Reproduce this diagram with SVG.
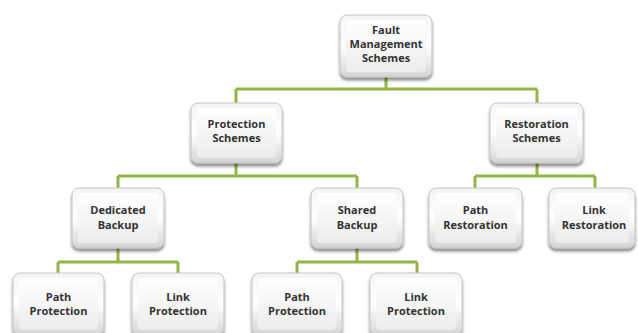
<svg xmlns="http://www.w3.org/2000/svg" width="638" height="333" viewBox="0 0 638 333">
<defs>
<linearGradient id="g" x1="0" y1="0" x2="0" y2="1">
<stop offset="0" stop-color="#f4f4f4"/>
<stop offset="0.5" stop-color="#ffffff"/>
<stop offset="1" stop-color="#d4d4d4"/>
</linearGradient>
<linearGradient id="gi" x1="0" y1="0" x2="0" y2="1">
<stop offset="0" stop-color="#ffffff"/>
<stop offset="1" stop-color="#ececec"/>
</linearGradient>
<filter id="sh" x="-20%" y="-20%" width="140%" height="150%">
<feGaussianBlur in="SourceAlpha" stdDeviation="1.8"/>
<feOffset dx="0" dy="2.5" result="b"/>
<feComponentTransfer><feFuncA type="linear" slope="0.45"/></feComponentTransfer>
<feMerge><feMergeNode/><feMergeNode in="SourceGraphic"/></feMerge>
</filter>
</defs>
<style>
.box{fill:url(#g);stroke:#c4c4c4;stroke-width:1;filter:url(#sh)}
.in{fill:url(#gi);stroke:none}
.t{font-family:"Open Sans","Liberation Sans",sans-serif;font-weight:bold;font-size:11px;fill:#333;text-anchor:middle}
.c{fill:none;stroke:#92b548;stroke-width:3}
</style>
<g id="connectors">
<path class="c" d="M386 77V89M236 89H537M236 89V103M537 89V103"/>
<path class="c" d="M236 163V176M118 176H357M118 176V188M357 176V188"/>
<path class="c" d="M537 163V176M475 176H595M475 176V188M595 176V188"/>
<path class="c" d="M118 248V262M58 262H178M58 262V273M178 262V273"/>
<path class="c" d="M357 248V262M297 262H417M297 262V273M417 262V273"/>
</g>
<g id="fault">
<rect class="box" x="340" y="15" width="92" height="62" rx="7"/>
<rect class="in" x="346" y="20" width="80" height="52" rx="4"/>
<text class="t" x="386" y="34">Fault</text>
<text class="t" x="386" y="48">Management</text>
<text class="t" x="386" y="62">Schemes</text>
</g>
<g id="protection">
<rect class="box" x="191" y="103" width="91" height="60" rx="7"/>
<rect class="in" x="197" y="108" width="79" height="50" rx="4"/>
<text class="t" x="236.5" y="128">Protection</text>
<text class="t" x="236.5" y="142">Schemes</text>
</g>
<g id="restoration">
<rect class="box" x="490" y="103" width="93" height="60" rx="7"/>
<rect class="in" x="496" y="108" width="81" height="50" rx="4"/>
<text class="t" x="536.5" y="128">Restoration</text>
<text class="t" x="536.5" y="142">Schemes</text>
</g>
<g id="dedicated">
<rect class="box" x="72" y="188" width="92" height="60" rx="7"/>
<rect class="in" x="78" y="193" width="80" height="50" rx="4"/>
<text class="t" x="118" y="214">Dedicated</text>
<text class="t" x="118" y="229">Backup</text>
</g>
<g id="shared">
<rect class="box" x="311" y="188" width="92" height="60" rx="7"/>
<rect class="in" x="317" y="193" width="80" height="50" rx="4"/>
<text class="t" x="357" y="214">Shared</text>
<text class="t" x="357" y="229">Backup</text>
</g>
<g id="pathRestoration">
<rect class="box" x="429" y="188" width="93" height="60" rx="7"/>
<rect class="in" x="435" y="193" width="81" height="50" rx="4"/>
<text class="t" x="475.5" y="214">Path</text>
<text class="t" x="475.5" y="229">Restoration</text>
</g>
<g id="linkRestoration">
<rect class="box" x="549" y="188" width="86" height="60" rx="7"/>
<rect class="in" x="555" y="193" width="74" height="50" rx="4"/>
<text class="t" x="594" y="214">Link</text>
<text class="t" x="594" y="229">Restoration</text>
</g>
<g id="pathProtection1">
<rect class="box" x="13" y="273" width="91" height="62" rx="7"/>
<rect class="in" x="19" y="278" width="79" height="52" rx="4"/>
<text class="t" x="58.5" y="301">Path</text>
<text class="t" x="58.5" y="315">Protection</text>
</g>
<g id="linkProtection1">
<rect class="box" x="132" y="273" width="92" height="62" rx="7"/>
<rect class="in" x="138" y="278" width="80" height="52" rx="4"/>
<text class="t" x="178" y="301">Link</text>
<text class="t" x="178" y="315">Protection</text>
</g>
<g id="pathProtection2">
<rect class="box" x="252" y="273" width="90" height="62" rx="7"/>
<rect class="in" x="258" y="278" width="78" height="52" rx="4"/>
<text class="t" x="297" y="301">Path</text>
<text class="t" x="297" y="315">Protection</text>
</g>
<g id="linkProtection2">
<rect class="box" x="370" y="273" width="92" height="62" rx="7"/>
<rect class="in" x="376" y="278" width="80" height="52" rx="4"/>
<text class="t" x="416" y="301">Link</text>
<text class="t" x="416" y="315">Protection</text>
</g>
</svg>
